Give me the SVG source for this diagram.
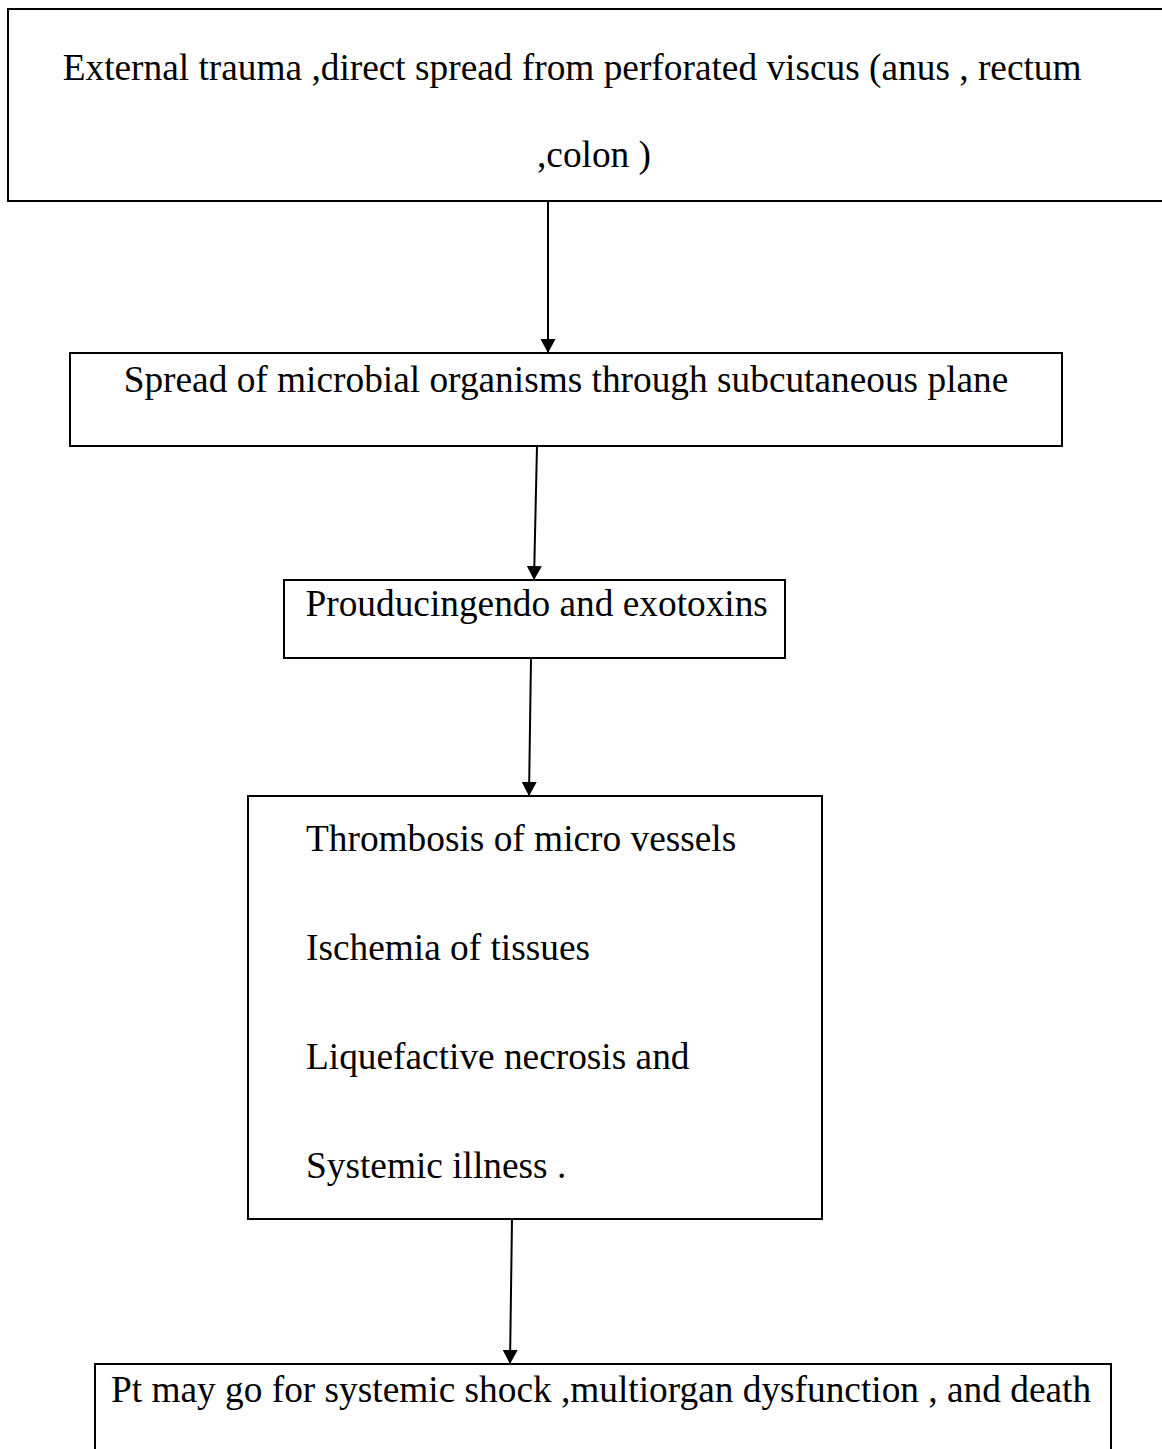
<svg xmlns="http://www.w3.org/2000/svg" width="1162" height="1449" viewBox="0 0 1162 1449">
<style>
.box{fill:#fff;stroke:#000;stroke-width:2}
.t{font-family:"Liberation Serif","Times New Roman",serif;font-size:37.33px;fill:#000}
.c{fill:none;stroke:#000;stroke-width:2}
</style>
<defs>
<marker id="ah" viewBox="0 0 14 15" refX="14" refY="7.5" markerWidth="14" markerHeight="15" markerUnits="userSpaceOnUse" orient="auto">
<path d="M0,0 L14,7.5 L0,15 z" fill="#000"/>
</marker>
</defs>
<rect x="0" y="0" width="1162" height="1449" fill="#fff"/>
<g id="connectors">
<line class="c" x1="548" y1="201" x2="548" y2="353" marker-end="url(#ah)"/>
<line class="c" x1="537" y1="446" x2="534" y2="580" marker-end="url(#ah)"/>
<line class="c" x1="531" y1="658" x2="529" y2="796" marker-end="url(#ah)"/>
<line class="c" x1="512" y1="1219" x2="510" y2="1364" marker-end="url(#ah)"/>
</g>
<g id="node1">
<rect class="box" x="8" y="9" width="1170" height="192"/>
<text class="t" x="62.7" y="80">External trauma ,direct spread from perforated viscus (anus , rectum</text>
<text class="t" x="537" y="167">,colon )</text>
</g>
<g id="node2">
<rect class="box" x="70" y="353" width="992" height="93"/>
<text class="t" x="566" y="392" text-anchor="middle">Spread of microbial organisms through subcutaneous plane</text>
</g>
<g id="node3">
<rect class="box" x="284" y="580" width="501" height="78"/>
<text class="t" x="305.5" y="616">Prouducingendo and exotoxins</text>
</g>
<g id="node4">
<rect class="box" x="248" y="796" width="574" height="423"/>
<text class="t" x="306" y="851">Thrombosis of micro vessels</text>
<text class="t" x="306" y="960">Ischemia of tissues</text>
<text class="t" x="306" y="1069">Liquefactive necrosis and</text>
<text class="t" x="306" y="1178">Systemic illness .</text>
</g>
<g id="node5">
<rect class="box" x="95" y="1364" width="1016" height="120"/>
<text class="t" x="111" y="1402">Pt may go for systemic shock ,multiorgan dysfunction , and death</text>
</g>
</svg>
